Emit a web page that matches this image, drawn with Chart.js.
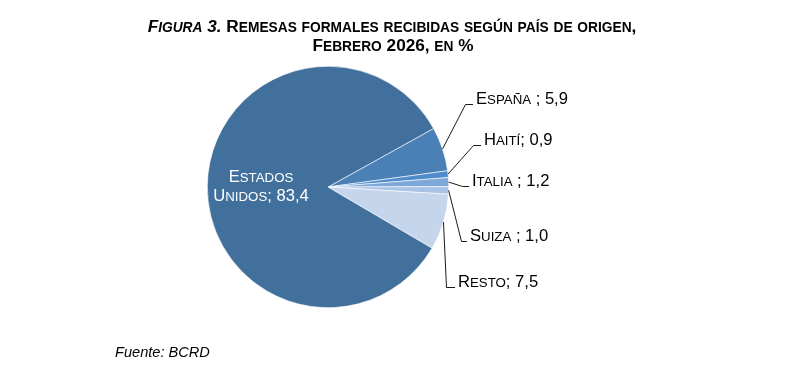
<!DOCTYPE html>
<html>
<head>
<meta charset="utf-8">
<script src="https://cdn.jsdelivr.net/npm/chart.js@4"></script>
<style>
  html, body { margin: 0; padding: 0; background: #fff; }
  #wrap { width: 812px; height: 365px; }
</style>
</head>
<body>
<div id="wrap"><canvas id="chart" width="812" height="365"></canvas></div>
<script>
/* data */
const categories = ["España", "Haití", "Italia", "Suiza", "Resto", "Estados Unidos"];
const values = [5.9, 0.9, 1.2, 1.0, 7.5, 83.4];
const separators = [" ; ", "; ", " ; ", " ; ", "; ", "; "];
const sliceColors = ["#4a80b5", "#4f8ccb", "#7ea8da", "#a9c3e6", "#c5d5eb", "#41709c"];

/* where the outside labels sit (elbow of leader line + text start) */
const labelLayout = [
  { ex: 465, ey: 104, tx: 476 },
  { ex: 473, ey: 145, tx: 484 },
  { ex: 462, ey: 186, tx: 472 },
  { ex: 461, ey: 241, tx: 470 },
  { ex: 446, ey: 287, tx: 458 },
];

const FONT = "'Liberation Sans', Arial, sans-serif";

/* small caps: lowercase letters become smaller uppercase */
function scRuns(text) {
  let runs = [];
  for (const ch of text) {
    const small = ch !== ch.toUpperCase();
    const last = runs[runs.length - 1];
    if (last && last.small === small) last.s += small ? ch.toUpperCase() : ch;
    else runs.push({ s: small ? ch.toUpperCase() : ch, small: small });
  }
  return runs;
}

function fontStr(size, bold, italic) {
  return (italic ? "italic " : "") + (bold ? "bold " : "") + size + "px " + FONT;
}

/* parts: [{text, italic}] */
function measureParts(ctx, parts, size, bold) {
  let w = 0;
  parts.forEach((p) => {
    scRuns(p.text).forEach((r) => {
      ctx.font = fontStr(r.small ? size * 0.8 : size, bold, p.italic);
      w += ctx.measureText(r.s).width;
    });
  });
  return w;
}

function drawParts(ctx, parts, x, y, size, bold, align) {
  let w = measureParts(ctx, parts, size, bold);
  let cx = align === "center" ? x - w / 2 : x;
  ctx.textAlign = "left";
  ctx.textBaseline = "alphabetic";
  parts.forEach((p) => {
    scRuns(p.text).forEach((r) => {
      ctx.font = fontStr(r.small ? size * 0.8 : size, bold, p.italic);
      ctx.fillText(r.s, cx, y);
      cx += ctx.measureText(r.s).width;
    });
  });
}

function fmt(v) {
  return v.toFixed(1).replace(".", ",");
}

const annotations = {
  id: "annotations",
  afterDraw(chart) {
    const ctx = chart.ctx;
    ctx.save();
    ctx.fillStyle = "#000";

    // title
    drawParts(ctx, [{ text: "Figura 3.", italic: true }, { text: " Remesas formales recibidas según país de origen,", italic: false }], 392, 32, 17.2, true, "center");
    drawParts(ctx, [{ text: "Febrero 2026, en %", italic: false }], 393, 51, 17.2, true, "center");

    // outside labels with leader lines
    const meta = chart.getDatasetMeta(0);
    labelLayout.forEach((lay, i) => {
      const arc = meta.data[i];
      const mid = (arc.startAngle + arc.endAngle) / 2;
      const sx = arc.x + Math.cos(mid) * arc.outerRadius;
      const sy = arc.y + Math.sin(mid) * arc.outerRadius;
      ctx.strokeStyle = "#1a1a1a";
      ctx.lineWidth = 1;
      ctx.beginPath();
      ctx.moveTo(sx, sy);
      ctx.lineTo(lay.ex + 0.5, lay.ey + 0.5);
      ctx.lineTo(lay.tx - 3, lay.ey + 0.5);
      ctx.stroke();
      ctx.fillStyle = "#000";
      drawParts(ctx, [{ text: categories[i] + separators[i] + fmt(values[i]), italic: false }], lay.tx, lay.ey, 16.6, false, "left");
    });

    // inside label for the big slice
    const last = values.length - 1;
    const words = categories[last].split(" ");
    ctx.fillStyle = "#fff";
    drawParts(ctx, [{ text: words[0], italic: false }], 261, 182, 16.6, false, "center");
    drawParts(ctx, [{ text: words[1] + separators[last] + fmt(values[last]), italic: false }], 261, 201, 16.6, false, "center");

    // source
    ctx.fillStyle = "#000";
    ctx.font = "italic 14.6px " + FONT;
    ctx.textAlign = "left";
    ctx.fillText("Fuente: BCRD", 115, 357);
    ctx.restore();
  },
};

const config = {
  type: "pie",
  data: {
    labels: categories,
    datasets: [
      {
        data: values,
        backgroundColor: sliceColors,
        borderColor: "#ffffff",
        borderWidth: 0.6,
      },
    ],
  },
  options: {
    responsive: false,
    animation: false,
    devicePixelRatio: 1,
    rotation: 61,
    layout: { padding: { left: 207, right: 363, top: 66, bottom: 57 } },
    plugins: {
      legend: { display: false },
      title: { display: false },
      tooltip: { enabled: false },
    },
  },
  plugins: [annotations],
};

const myChart = new Chart(document.getElementById("chart"), config);
</script>
</body>
</html>
